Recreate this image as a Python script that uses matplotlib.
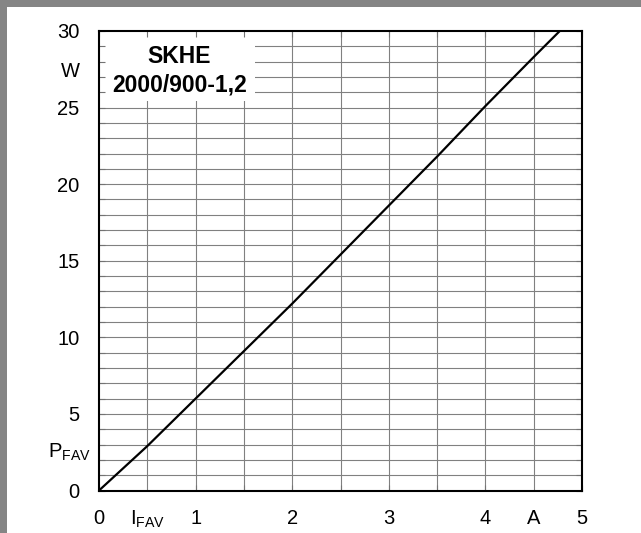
import matplotlib
matplotlib.use("Agg")
import matplotlib.pyplot as plt
from matplotlib.patches import Rectangle
import numpy as np

plt.rcParams['font.family'] = ['Liberation Sans', 'DejaVu Sans']
plt.rcParams['mathtext.fontset'] = 'custom'
plt.rcParams['mathtext.rm'] = 'Liberation Sans'
plt.rcParams['mathtext.it'] = 'Liberation Sans'

# forward current I_FAV (A) vs power loss P_FAV (W)
i_fav = [0, 0.5, 1.0, 1.5, 2.0, 2.5, 3.0, 3.5, 4.0, 4.5, 4.77]
p_fav = [0, 2.9, 6.0, 9.1, 12.2, 15.4, 18.6, 21.8, 25.1, 28.3, 30.0]

x_ticks = [0, 0.5, 1, 2, 3, 4, 4.5, 5]
x_labels = ['0', r'$\mathrm{I}_{\mathrm{FAV}}$', '1', '2', '3', '4', 'A', '5']
y_ticks = [0, 5, 10, 15, 20, 25, 27.5, 30]
y_labels = ['0', '5', '10', '15', '20', '25', 'W', '30']
title_lines = ['SKHE', '2000/900-1,2']

fig = plt.figure(figsize=(6.41, 5.33), dpi=100)
ax = fig.add_axes([99/641, 1 - 490.5/533, 483/641, 459.5/533])

# grey frame on top and left edge of the picture
fig.patches.append(Rectangle((0, 1 - 6.5/533), 1, 6.5/533, transform=fig.transFigure,
                             facecolor='#858585', edgecolor='none', zorder=0))
fig.patches.append(Rectangle((0, 0), 7/641, 1, transform=fig.transFigure,
                             facecolor='#858585', edgecolor='none', zorder=0))

ax.set_xlim(0, 5)
ax.set_ylim(0, 30)

# grid drawn by hand so the label box can cover it but not the ticks
gx = np.arange(0.5, 5, 0.5)
gy = np.arange(1, 30, 1)
ax.vlines(gx, 0, 30, color='0.5', lw=0.8, zorder=1)
ax.hlines(gy, 0, 5, color='0.5', lw=0.8, zorder=1)
ax.add_patch(Rectangle((0, 25.45), 1.62, 4.55, facecolor='white', edgecolor='none', zorder=1.5))

ax.plot(i_fav, p_fav, color='black', lw=1.6, zorder=3)

ax.text(0.83, 28.32, title_lines[0], ha='center', va='center', fontsize=16.5, fontweight='bold', zorder=4)
ax.text(0.83, 26.47, title_lines[1], ha='center', va='center', fontsize=16.5, fontweight='bold', zorder=4)

ax.set_xticks(x_ticks, x_labels, fontsize=14.5)
ax.set_yticks(y_ticks, y_labels, fontsize=14.5)
ax.set_xticks(gx, minor=True)
ax.set_yticks(gy, minor=True)
ax.tick_params(which='both', direction='in', top=True, right=True, length=4, width=0.8, color='0.45')
ax.tick_params(axis='x', which='major', pad=13)
ax.tick_params(axis='y', which='major', pad=14)
ax.yaxis.get_major_ticks()[6].tick1line.set_visible(False)
ax.yaxis.get_major_ticks()[6].tick2line.set_visible(False)
ax.xaxis.get_major_ticks()[1].tick1line.set_visible(False)
ax.xaxis.get_major_ticks()[6].tick1line.set_visible(False)

ax.text(-0.017, 2.5, r'$\mathrm{P}_{\mathrm{FAV}}$', transform=ax.get_yaxis_transform(),
        ha='right', va='center', fontsize=14.5)

for s in ax.spines.values():
    s.set_linewidth(1.5)
    s.set_zorder(5)

fig.savefig('out.png', dpi=100)
